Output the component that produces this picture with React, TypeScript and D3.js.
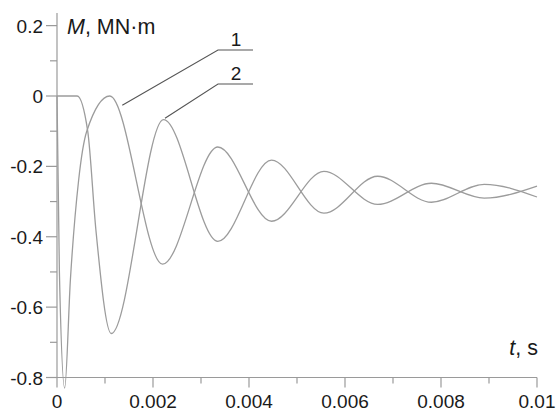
import React from "react";
import * as d3 from "d3";

// Curve 1 (t in s, M in MN·m)
const curve1T = [0, 0.00005, 0.00016, 0.00028, 0.00045, 0.00062, 0.0011, 0.0022, 0.00335, 0.00447, 0.00556, 0.00668, 0.0078, 0.0089, 0.01];
const curve1M = [0, -0.5, -0.83, -0.52, -0.24, -0.1, 0, -0.478, -0.145, -0.356, -0.214, -0.308, -0.248, -0.29, -0.256];

// Curve 2
const curve2T = [0, 0.00042, 0.00064, 0.00081, 0.00113, 0.00222, 0.00335, 0.00447, 0.00556, 0.00668, 0.0078, 0.0089, 0.01];
const curve2M = [0, 0, -0.1, -0.38, -0.675, -0.067, -0.413, -0.182, -0.333, -0.228, -0.302, -0.251, -0.287];

const xMajorTicks = [0, 0.002, 0.004, 0.006, 0.008, 0.01];
const xTickLabels = ["0", "0.002", "0.004", "0.006", "0.008", "0.01"];
const xMinorTicks = [0.001, 0.003, 0.005, 0.007, 0.009];
const yMajorTicks = [0.2, 0, -0.2, -0.4, -0.6, -0.8];
const yTickLabels = ["0.2", "0", "-0.2", "-0.4", "-0.6", "-0.8"];
const yMinorTicks = [0.1, -0.1, -0.3, -0.5, -0.7];

// annotation anchors (t, M) on curves, and label names
const labelNames = ["1", "2"];
const labelAnchorsT = [0.00136, 0.00225];
const labelAnchorsM = [-0.026, -0.063];

export default function App() {
  const W = 556, H = 413;
  const x = d3.scaleLinear().domain([0, 0.01]).range([57, 537]);
  const y = d3.scaleLinear().domain([-0.8, 0]).range([377.5, 96]);

  const line = d3
    .line<[number, number]>()
    .x((d) => x(d[0]))
    .y((d) => y(d[1]))
    .curve(d3.curveMonotoneX);

  const pts1: [number, number][] = curve1T.map((t, i) => [t, curve1M[i]]);
  const pts2: [number, number][] = curve2T.map((t, i) => [t, curve2M[i]]);

  const axisColor = "#9a9a9a";
  const curveColor = "#9c9c9c";
  const textColor = "#1a1a1a";
  const font = "'Liberation Sans', Arial, sans-serif";

  const labelY = [50, 84];

  return (
    <svg
      width={W}
      height={H}
      style={{ position: "absolute", left: 0, top: 0, background: "#fff" }}
      fontFamily={font}
    >
      <rect x={0} y={0} width={W} height={H} fill="#fff" />
      {/* axes */}
      <line x1={x(0)} x2={x(0)} y1={13} y2={y(-0.8)} stroke={axisColor} strokeWidth={1.2} />
      <line x1={x(0)} x2={x(0.01)} y1={y(-0.8)} y2={y(-0.8)} stroke={axisColor} strokeWidth={1.2} />
      {xMajorTicks.map((t, i) => (
        <g key={"xm" + i}>
          <line x1={x(t)} x2={x(t)} y1={y(-0.8)} y2={y(-0.8) + 10} stroke={axisColor} strokeWidth={1.2} />
          <text x={x(t)} y={408} textAnchor="middle" fontSize={19} fill={textColor}>
            {xTickLabels[i]}
          </text>
        </g>
      ))}
      {xMinorTicks.map((t, i) => (
        <line key={"xn" + i} x1={x(t)} x2={x(t)} y1={y(-0.8)} y2={y(-0.8) + 6} stroke={axisColor} strokeWidth={1.2} />
      ))}
      {yMajorTicks.map((v, i) => (
        <g key={"ym" + i}>
          <line x1={x(0) - 11} x2={x(0)} y1={y(v)} y2={y(v)} stroke={axisColor} strokeWidth={1.2} />
          <text x={43} y={y(v) + 7} textAnchor="end" fontSize={19} fill={textColor}>
            {yTickLabels[i]}
          </text>
        </g>
      ))}
      {yMinorTicks.map((v, i) => (
        <line key={"yn" + i} x1={x(0) - 7} x2={x(0)} y1={y(v)} y2={y(v)} stroke={axisColor} strokeWidth={1.2} />
      ))}

      {/* curves */}
      <path d={line(pts1) || ""} fill="none" stroke={curveColor} strokeWidth={1.3} />
      <path d={line(pts2) || ""} fill="none" stroke={curveColor} strokeWidth={1.3} />

      {/* annotations */}
      {labelNames.map((name, i) => (
        <g key={"lab" + i}>
          <polyline
            points={`${x(labelAnchorsT[i])},${y(labelAnchorsM[i])} 218,${labelY[i]} 253,${labelY[i]}`}
            fill="none"
            stroke="#555"
            strokeWidth={1.1}
          />
          <text x={236} y={labelY[i] - 4} textAnchor="middle" fontSize={19} fill={textColor}>
            {name}
          </text>
        </g>
      ))}

      {/* axis titles */}
      <text x={67} y={34} fontSize={21.5} fill={textColor}>
        <tspan fontStyle="italic">M</tspan>
        <tspan>, MN·m</tspan>
      </text>
      <text x={538} y={355} textAnchor="end" fontSize={21.5} fill={textColor}>
        <tspan fontStyle="italic">t</tspan>
        <tspan>, s</tspan>
      </text>
    </svg>
  );
}
